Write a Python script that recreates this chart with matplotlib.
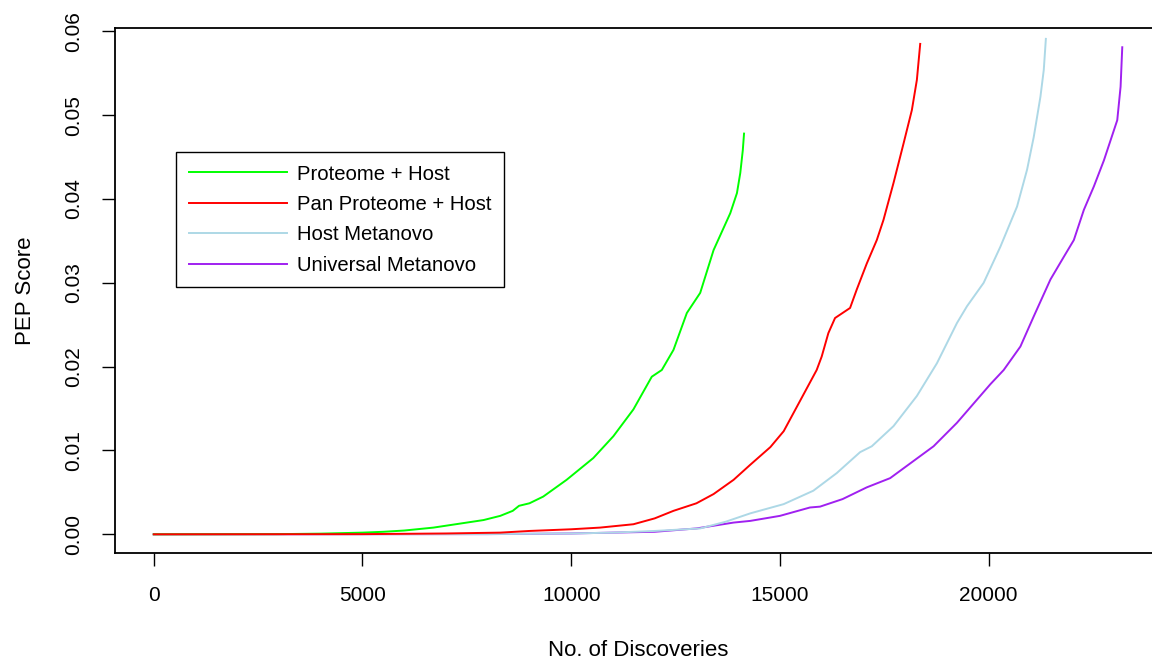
import matplotlib
matplotlib.use('Agg')
import matplotlib.pyplot as plt
from matplotlib.ticker import FormatStrFormatter

plt.rcParams['font.family'] = ['Liberation Sans', 'DejaVu Sans']

# ---- data ----
green_x = [0, 3000, 4000, 5000, 5500, 6000, 6700, 7500, 7900, 8300, 8600, 8750, 9000, 9330,
           9890, 10530, 11010, 11490, 11930, 12170, 12450, 12770, 13090, 13410, 13810, 13970,
           14050, 14110, 14140]
green_y = [0, 0.00002, 0.00008, 0.0002, 0.0003, 0.00045, 0.0008, 0.0014, 0.0017, 0.0022, 0.0028,
           0.0034, 0.0037, 0.0045, 0.0065, 0.0091, 0.0117, 0.0149, 0.0188, 0.0196, 0.0220, 0.0264,
           0.0288, 0.0339, 0.0383, 0.0407, 0.0431, 0.0458, 0.0478]

red_x = [0, 5000, 7000, 8300, 9000, 10000, 10690, 11490, 12000, 12450, 13000, 13410, 13890,
         14290, 14770, 15090, 15480, 15880, 16000, 16160, 16320, 16500, 16680, 16840, 17080,
         17320, 17480, 17720, 17960, 18160, 18280, 18360]
red_y = [0, 0.00002, 0.0001, 0.0002, 0.0004, 0.0006, 0.0008, 0.0012, 0.0019, 0.0028, 0.0037,
         0.0048, 0.0065, 0.0083, 0.0104, 0.0123, 0.0159, 0.0196, 0.0212, 0.0240, 0.0258, 0.0264,
         0.0270, 0.0292, 0.0323, 0.0351, 0.0375, 0.0419, 0.0466, 0.0506, 0.0542, 0.0585]

blue_x = [0, 8000, 10000, 11000, 12000, 13090, 13700, 14290, 15090, 15800, 16360, 16920, 17200,
          17720, 18280, 18760, 19240, 19480, 19880, 20280, 20680, 20920, 21080, 21240, 21320, 21370]
blue_y = [0, 0.00003, 0.0001, 0.0002, 0.0004, 0.0007, 0.0015, 0.0025, 0.0036, 0.0052, 0.0073,
          0.0098, 0.0105, 0.0129, 0.0165, 0.0204, 0.0252, 0.0272, 0.0300, 0.0343, 0.0391, 0.0435,
          0.0474, 0.0522, 0.0554, 0.0591]

purple_x = [0, 8000, 10000, 12000, 13000, 13890, 14290, 15000, 15720, 15960, 16500, 17080, 17640,
            18680, 19240, 20040, 20360, 20760, 21080, 21480, 21800, 22040, 22280, 22520, 22760,
            22880, 23080, 23160, 23200]
purple_y = [0, 0.00002, 0.0001, 0.0003, 0.0007, 0.0014, 0.0016, 0.0022, 0.0032, 0.0033, 0.0042,
            0.0056, 0.0067, 0.0105, 0.0133, 0.0179, 0.0196, 0.0224, 0.0260, 0.0304, 0.0331, 0.0351,
            0.0387, 0.0415, 0.0446, 0.0464, 0.0494, 0.0534, 0.0581]

labels = ['Proteome + Host', 'Pan Proteome + Host', 'Host Metanovo', 'Universal Metanovo']
colors = ['#00FF00', '#FF0000', '#ADD8E6', '#A020F0']
x_ticks = [0, 5000, 10000, 15000, 20000]
y_ticks = [0.00, 0.01, 0.02, 0.03, 0.04, 0.05, 0.06]

# ---- figure ----
W, H = 1152, 661
fig = plt.figure(figsize=(W / 100, H / 100), dpi=100)
ax_left, ax_right, ax_top, ax_bottom = 115, 1161, 28.3, 553
ax = fig.add_axes([ax_left / W, 1 - ax_bottom / H, (ax_right - ax_left) / W, (ax_bottom - ax_top) / H])

lw = 1.4
lp, = ax.plot(purple_x, purple_y, color=colors[3], lw=lw, label=labels[3])
lb, = ax.plot(blue_x, blue_y, color=colors[2], lw=lw, label=labels[2])
lg, = ax.plot(green_x, green_y, color=colors[0], lw=lw, label=labels[0])
lr, = ax.plot(red_x, red_y, color=colors[1], lw=lw, label=labels[1])

ax.set_xlim(-928, 24128)
ax.set_ylim(-0.00223, 0.06036)
ax.set_xticks(x_ticks)
ax.set_yticks(y_ticks)
ax.yaxis.set_major_formatter(FormatStrFormatter('%.2f'))

for s in ax.spines.values():
    s.set_linewidth(1.3)
    s.set_color('black')

ax.tick_params(length=9.6, width=1.0, labelsize=15, direction='out')
ax.tick_params(axis='x', pad=14.5)
ax.tick_params(axis='y', pad=13.2)
plt.setp(ax.get_yticklabels(), rotation=90, va='center')

ax.set_xlabel('No. of Discoveries', fontsize=16)
ax.set_ylabel('PEP Score', fontsize=16)
ax_h = ax_bottom - ax_top
ax_w = ax_right - ax_left
ax.xaxis.set_label_coords(0.5, -(640 - ax_bottom) / ax_h)
ax.yaxis.set_label_coords(-(ax_left - 36) / ax_w, 0.5)

leg = ax.legend(handles=[lg, lr, lb, lp], loc='upper left',
                bbox_to_anchor=(176 / W, 1 - 152 / H), bbox_transform=fig.transFigure,
                fontsize=14.6, handlelength=4.85, handletextpad=0.5, labelspacing=0.56,
                borderpad=0.62, borderaxespad=0, frameon=True, fancybox=False,
                edgecolor='black', framealpha=1)
leg.get_frame().set_linewidth(1.0)
for h in leg.get_lines():
    h.set_linewidth(1.4)

fig.savefig('out.png', dpi=100)
